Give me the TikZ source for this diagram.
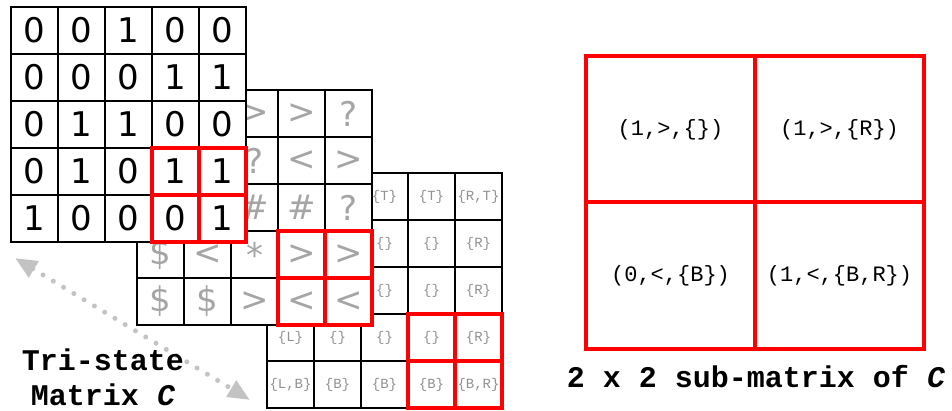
\documentclass[tikz,border=0pt]{standalone}
\usepackage{fontspec}
\setmainfont{DejaVu Sans}
\newfontfamily\mono{Liberation Mono}
\usepackage{xcolor}
\usepackage{tikz}
\usetikzlibrary{arrows.meta, positioning, calc}

\definecolor{symgray}{RGB}{165,165,165}
\definecolor{setgray}{RGB}{145,145,145}
\definecolor{dotgray}{RGB}{195,195,195}
\definecolor{hotred}{RGB}{255,0,0}

\begin{document}
\begin{tikzpicture}[
    x=1pt, y=-1pt,
    cell/.style={draw, line width=1.3pt, fill=white, minimum size=47pt, inner sep=0pt, outer sep=0pt, anchor=north west},
    bit/.style={cell, font=\fontsize{34}{34}\selectfont},
    sym/.style={cell, text=symgray, font=\fontsize{34}{34}\selectfont},
    tag/.style={cell, text=setgray, font=\mono\fontsize{14}{14}\selectfont},
    hot/.style={draw=hotred, line width=4pt},
    sub/.style={draw=hotred, line width=4pt, minimum width=169pt, minimum height=146pt, inner sep=0pt, outer sep=0pt, font=\mono\fontsize{22}{22}\selectfont},
    lbl/.style={font=\mono\bfseries\fontsize{30}{35}\selectfont, align=center},
    dots/.style={dotgray, line width=5pt, line cap=round, dash pattern=on 0pt off 12pt, {Triangle[length=22pt,width=18pt]}-{Triangle[length=22pt,width=18pt]}}
]
\useasboundingbox (0,0) rectangle (952,411);

% Bottom layer: edge sets
\foreach \row [count=\ri from 0] in {{{},{},{\{T\}},{\{T\}},{\{R,T\}}},
                                     {{},{},{\{\}},{\{\}},{\{R\}}},
                                     {{},{},{\{\}},{\{\}},{\{R\}}},
                                     {{\{L\}},{\{\}},{\{\}},{\{\}},{\{R\}}},
                                     {{\{L,B\}},{\{B\}},{\{B\}},{\{B\}},{\{B,R\}}}}
  \foreach \t [count=\ci from 0] in \row
    \node[tag] (e-\ri-\ci) at ({267+47*\ci},{173+47*\ri}) {\t};
\foreach \ri in {3,4}
  \foreach \ci in {3,4}
    \draw[hot] (e-\ri-\ci.north west) rectangle (e-\ri-\ci.south east);

% Middle layer: symbols
\foreach \row [count=\ri from 0] in {{{},{},>,>,?},
                                     {{},{},?,<,>},
                                     {{},{},\#,\#,?},
                                     {\$,<,*,>,>},
                                     {\$,\$,>,<,<}}
  \foreach \t [count=\ci from 0] in \row
    \node[sym] (s-\ri-\ci) at ({137+47*\ci},{90+47*\ri}) {\t};
\foreach \ri in {3,4}
  \foreach \ci in {3,4}
    \draw[hot] (s-\ri-\ci.north west) rectangle (s-\ri-\ci.south east);

% Top layer: bits
\foreach \row [count=\ri from 0] in {{0,0,1,0,0},
                                     {0,0,0,1,1},
                                     {0,1,1,0,0},
                                     {0,1,0,1,1},
                                     {1,0,0,0,1}}
  \foreach \t [count=\ci from 0] in \row
    \node[bit] (b-\ri-\ci) at ({11+47*\ci},{7+47*\ri}) {\t};
\foreach \ri in {3,4}
  \foreach \ci in {3,4}
    \draw[hot] (b-\ri-\ci.north west) rectangle (b-\ri-\ci.south east);

% Stack arrow
\coordinate (tl) at (15,258);
\coordinate (br) at (250,400);
\draw[dots] (tl) -- (br);

% 2 x 2 sub-matrix
\node[sub] (m11) at (670.5,129.5) {(1,>,\{\})};
\node[sub, right=0pt of m11] (m12) {(1,>,\{R\})};
\node[sub, below=0pt of m11] (m21) {(0,<,\{B\})};
\node[sub, right=0pt of m21] (m22) {(1,<,\{B,R\})};

% Captions
\node[lbl] (cap) at (103,377) {Tri-state\\Matrix \textit{C}};
\node[lbl, anchor=base] (subcap) at (756,387) {2 x 2 sub-matrix of \textit{C}};

\end{tikzpicture}
\end{document}
